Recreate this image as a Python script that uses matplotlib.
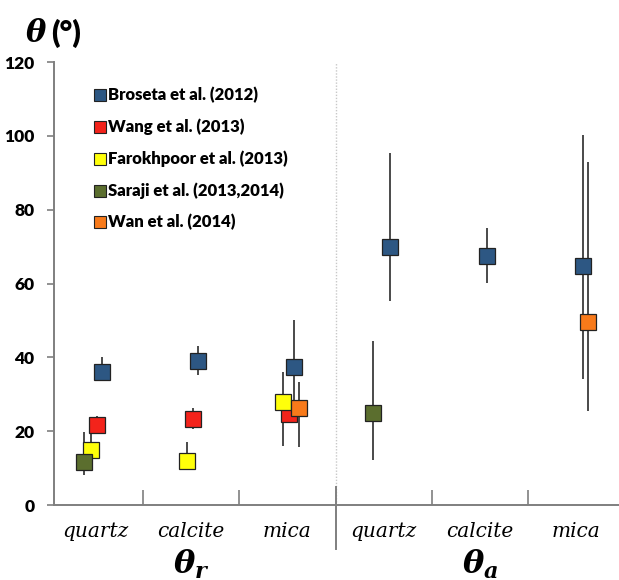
import numpy as np
import matplotlib
import matplotlib.pyplot as plt
from matplotlib.lines import Line2D

matplotlib.rcParams["mathtext.fontset"] = "custom"
matplotlib.rcParams["mathtext.it"] = "DejaVu Serif:italic:bold"
matplotlib.rcParams["mathtext.rm"] = "DejaVu Serif:bold"

# categories along x (receding angle group first, then advancing)
minerals = ["quartz", "calcite", "mica", "quartz", "calcite", "mica"]
group_labels = [r"$\theta_r$", r"$\theta_a$"]

# contact angle data per study: category index, value, lower and upper bound
broseta_pos = [0, 1, 2, 3, 4, 5]
broseta_val = [36.0, 39.0, 37.3, 70.0, 67.5, 64.8]
broseta_lo = [34.0, 35.2, 27.6, 55.3, 60.1, 34.1]
broseta_hi = [40.0, 43.0, 50.1, 95.3, 75.1, 100.3]

wang_pos = [0, 1, 2]
wang_val = [21.7, 23.2, 24.7]
wang_lo = [20.0, 20.6, 22.6]
wang_hi = [24.0, 26.3, 26.0]

farokhpoor_pos = [0, 1, 2]
farokhpoor_val = [14.8, 12.0, 27.8]
farokhpoor_lo = [12.0, 10.0, 16.1]
farokhpoor_hi = [20.0, 17.0, 36.1]

saraji_pos = [0, 3]
saraji_val = [11.7, 24.8]
saraji_lo = [8.1, 12.2]
saraji_hi = [19.9, 44.3]

wan_pos = [2, 5]
wan_val = [26.2, 49.6]
wan_lo = [15.8, 25.6]
wan_hi = [33.4, 92.9]

series = [
    ("Broseta et al. (2012)", broseta_pos, broseta_val, broseta_lo, broseta_hi, "#2d5783", 0.07),
    ("Wang et al. (2013)", wang_pos, wang_val, wang_lo, wang_hi, "#f3231b", 0.02),
    ("Farokhpoor et al. (2013)", farokhpoor_pos, farokhpoor_val, farokhpoor_lo, farokhpoor_hi, "#ffff0a", -0.045),
    ("Saraji et al. (2013,2014)", saraji_pos, saraji_val, saraji_lo, saraji_hi, "#5b6e2e", -0.11),
    ("Wan et al. (2014)", wan_pos, wan_val, wan_lo, wan_hi, "#f87a1a", 0.12),
]

fig = plt.figure(figsize=(6.19, 5.8), dpi=100)
ax = fig.add_axes([0.0872, 0.1293, 0.9128, 0.7637])

ax.axvline(2.5, color="#c8c8c8", lw=1.0, ls=(0, (1, 1.2)), zorder=0)

handles = []
for name, pos, val, lo, hi, color, dx in series:
    x = np.array(pos) + dx
    val = np.array(val)
    yerr = [val - np.array(lo), np.array(hi) - val]
    ax.errorbar(x, val, yerr=yerr, fmt="none", ecolor="#4a4a4a", elinewidth=1.4,
                capsize=0, zorder=2)
    ax.plot(x, val, ls="none", marker="s", ms=11, mfc=color, mec="#222222",
            mew=0.9, zorder=3)
    handles.append(Line2D([], [], ls="none", marker="s", ms=8, mfc=color,
                          mec="#222222", mew=0.8, label=name))

ax.set_xlim(-0.425, 5.445)
ax.set_ylim(0, 120)

for side in ["top", "right"]:
    ax.spines[side].set_visible(False)
for side in ["left", "bottom"]:
    ax.spines[side].set_color("#7f7f7f")
    ax.spines[side].set_linewidth(1.4)

ax.set_yticks(np.arange(0, 121, 20))
ax.tick_params(axis="y", direction="out", length=5, width=1.2, color="#7f7f7f", pad=9)
for lab in ax.get_yticklabels():
    lab.set_fontfamily("Lato")
    lab.set_fontweight("heavy")
    lab.set_fontsize(12.5)

# separators between minerals
ax.set_xticks([0.5, 1.5, 3.5, 4.5])
ax.set_xticklabels([])
ax.tick_params(axis="x", direction="in", length=11, width=1.2, color="#7f7f7f")
ax.plot([2.5, 2.5], [0.04, -0.1], transform=ax.get_xaxis_transform(),
        color="#7f7f7f", lw=1.4, clip_on=False)

for i, m in enumerate(minerals):
    ax.text(i, -0.06, m, transform=ax.get_xaxis_transform(), ha="center",
            va="center", fontsize=14.5, family="DejaVu Serif", style="italic")

for i, g in enumerate(group_labels):
    ax.text(1 + 3 * i, -0.135, g, transform=ax.get_xaxis_transform(),
            ha="center", va="center", fontsize=23)

fig.text(0.04, 0.943, r"$\theta$", fontsize=22, ha="left", va="center")
fig.text(0.083, 0.943, "(°)", fontsize=22, ha="left", va="center",
         family="Lato", fontweight="heavy")

leg = ax.legend(handles=handles, loc="upper left", bbox_to_anchor=(0.06, 0.957),
                frameon=False, handletextpad=0.05, handlelength=1.0,
                labelspacing=1.1, borderaxespad=0)
for t in leg.get_texts():
    t.set_fontfamily("Lato")
    t.set_fontweight("heavy")
    t.set_fontsize(12)

fig.savefig("out.png", dpi=100)
